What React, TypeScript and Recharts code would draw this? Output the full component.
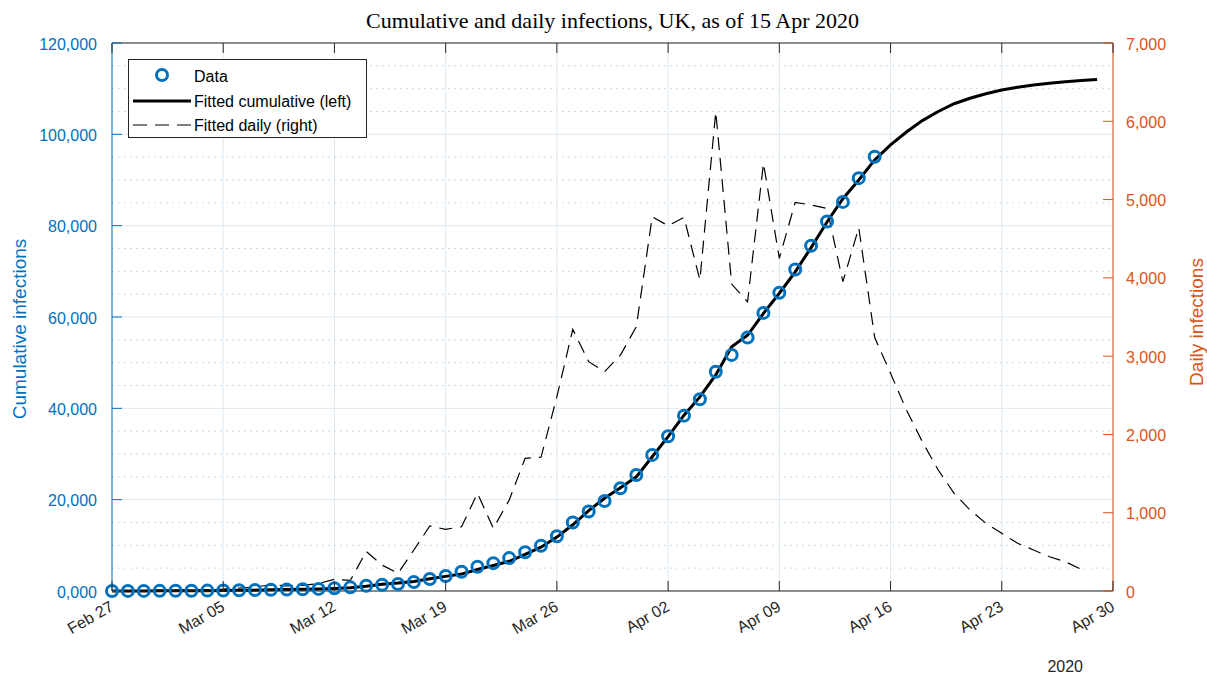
import { ComposedChart, Line, XAxis, YAxis, CartesianGrid, Legend, Label } from 'recharts';

// days counted from Feb 27 2020
const tickDays = [0, 7, 14, 21, 28, 35, 42, 49, 56, 63];
const tickLabels = ['Feb 27', 'Mar 05', 'Mar 12', 'Mar 19', 'Mar 26', 'Apr 02', 'Apr 09', 'Apr 16', 'Apr 23', 'Apr 30'];

const leftTicks = [0, 20000, 40000, 60000, 80000, 100000, 120000];
const leftLabels = ['0,000', '20,000', '40,000', '60,000', '80,000', '100,000', '120,000'];
const leftMinor = [5000, 10000, 15000, 25000, 30000, 35000, 45000, 50000, 55000, 65000, 70000, 75000, 85000, 90000, 95000, 105000, 110000, 115000];

const rightTicks = [0, 1000, 2000, 3000, 4000, 5000, 6000, 7000];
const rightLabels = ['0', '1,000', '2,000', '3,000', '4,000', '5,000', '6,000', '7,000'];

// observed cumulative cases, Feb 27 .. Apr 15
const observed = [
  15, 20, 23, 36, 40, 51, 85, 115, 163, 206, 273, 321, 373, 456, 590, 798, 1140, 1372, 1543, 1950,
  2626, 3269, 4200, 5300, 6100, 7200, 8500, 9900, 12000, 15000, 17400, 19700, 22500, 25400, 29800,
  33900, 38400, 42000, 48000, 51700, 55500, 60900, 65300, 70400, 75600, 80900, 85200, 90400, 95100,
];

// fitted cumulative, Feb 27 .. Apr 29
const cumFit = [
  10, 15, 20, 30, 40, 50, 70, 100, 140, 190, 250, 310, 380, 460, 560, 730, 1050, 1500, 1750, 2100,
  2700, 3200, 3700, 4700, 5600, 6500, 8000, 9600, 11800, 14500, 17600, 20300, 22600, 25000, 29400,
  33800, 38500, 42500, 47300, 53500, 56000, 60800, 65200, 69900, 75200, 80800, 85900, 90000, 94400,
  97700, 100500, 103000, 105000, 106700, 107900, 108900, 109700, 110300, 110800, 111200, 111500,
  111800, 112000,
];

// fitted daily, Feb 27 .. Apr 28
const dailyFit = [
  0, 5, 5, 8, 10, 12, 18, 25, 38, 50, 80, 65, 72, 95, 150, 135, 506, 330, 226, 524,
  830, 788, 821, 1248, 800, 1162, 1695, 1708, 2482, 3342, 2929, 2801, 3014, 3376, 4781,
  4666, 4773, 3972, 6122, 3921, 3695, 5463, 4250, 4965, 4930, 4888, 3951, 4640, 3240,
  2780, 2312, 1907, 1546, 1248, 1035, 865, 737, 609, 524, 438, 374, 277,
];

const rows = cumFit.map((c, i) => ({
  day: i,
  cum: c,
  daily: dailyFit[i],
  data: observed[i],
}));

const BLUE = '#0072BD';
const ORANGE = '#D95319';
const DARK = '#262626';
const FONT = '"Liberation Sans", Arial, Helvetica, sans-serif';

const BottomTick = (props: any) => {
  const { x, y, payload } = props;
  const label = tickLabels[tickDays.indexOf(payload.value)];
  const tx = x - 3;
  const ty = y + 9;
  return (
    <g>
      <line x1={x} y1={y} x2={x} y2={y - 10} stroke={DARK} strokeWidth={1} />
      <text
        x={tx}
        y={ty}
        transform={`rotate(-30 ${tx} ${ty})`}
        textAnchor="end"
        dominantBaseline="hanging"
        fontSize={16}
        fontFamily={FONT}
        fill={DARK}
      >
        {label}
      </text>
    </g>
  );
};

const TopTick = (props: any) => {
  const { x, y } = props;
  return <line x1={x} y1={y} x2={x} y2={y + 10} stroke={DARK} strokeWidth={1} />;
};

const LeftTick = (props: any) => {
  const { x, y, payload } = props;
  return (
    <g>
      <line x1={x} y1={y} x2={x + 10} y2={y} stroke={BLUE} strokeWidth={1} />
      <text x={x - 15} y={y + 1} textAnchor="end" dominantBaseline="central" fontSize={16} fontFamily={FONT} fill={BLUE}>
        {leftLabels[leftTicks.indexOf(payload.value)]}
      </text>
    </g>
  );
};

const RightTick = (props: any) => {
  const { x, y, payload } = props;
  return (
    <g>
      <line x1={x} y1={y} x2={x - 10} y2={y} stroke={ORANGE} strokeWidth={1} />
      <text x={x + 13} y={y + 1} textAnchor="start" dominantBaseline="central" fontSize={16} fontFamily={FONT} fill={ORANGE}>
        {rightLabels[rightTicks.indexOf(payload.value)]}
      </text>
    </g>
  );
};

const LegendBox = () => (
  <svg width={240} height={80} style={{ display: 'block' }}>
    <rect x={0.5} y={0.5} width={238} height={78} fill="#ffffff" stroke={DARK} strokeWidth={1} />
    <circle cx={34} cy={16} r={5.5} fill="none" stroke={BLUE} strokeWidth={3} />
    <text x={66} y={17} dominantBaseline="central" fontSize={16} fontFamily={FONT} fill="#000">Data</text>
    <line x1={5} y1={42} x2={63} y2={42} stroke="#000" strokeWidth={3} />
    <text x={66} y={42} dominantBaseline="central" fontSize={16} fontFamily={FONT} fill="#000">Fitted cumulative (left)</text>
    <line x1={5} y1={66} x2={63} y2={66} stroke="#000" strokeWidth={1.2} strokeDasharray="14 8" />
    <text x={66} y={66} dominantBaseline="central" fontSize={16} fontFamily={FONT} fill="#000">Fitted daily (right)</text>
  </svg>
);

export default function App() {
  return (
    <div style={{ position: 'absolute', left: 0, top: 0, width: 1207, height: 675, background: '#fff' }}>
      <div
        style={{
          position: 'absolute',
          left: 112,
          top: 8,
          width: 1001,
          textAlign: 'center',
          fontFamily: '"Liberation Serif", "DejaVu Serif", serif',
          fontSize: 22,
          color: '#000',
        }}
      >
        Cumulative and daily infections, UK, as of 15 Apr 2020
      </div>
      <ComposedChart width={1207} height={675} data={rows} margin={{ top: 13, right: 0, bottom: 0, left: 0 }}>
        <CartesianGrid
          xAxisId="bottom"
          yAxisId="left"
          horizontalValues={leftMinor}
          vertical={false}
          stroke="#c4dcef"
          strokeDasharray="2 4"
        />
        <CartesianGrid
          xAxisId="bottom"
          yAxisId="left"
          horizontalValues={leftTicks}
          verticalValues={tickDays}
          stroke="#dde9f3"
        />
        <XAxis
          xAxisId="bottom"
          dataKey="day"
          type="number"
          domain={[0, 63]}
          ticks={tickDays}
          height={84}
          tickSize={0}
          tickMargin={0}
          tickLine={false}
          axisLine={{ stroke: DARK }}
          tick={<BottomTick />}
          interval={0}
        >
          <Label
            content={(p: any) => {
              const vb = p.viewBox;
              return (
                <text x={vb.x + vb.width - 30} y={vb.y + 75} textAnchor="end" dominantBaseline="central" fontSize={16} fontFamily={FONT} fill={DARK}>
                  2020
                </text>
              );
            }}
          />
        </XAxis>
        <XAxis
          xAxisId="top"
          orientation="top"
          dataKey="day"
          type="number"
          domain={[0, 63]}
          ticks={tickDays}
          height={30}
          tickSize={0}
          tickMargin={0}
          tickLine={false}
          axisLine={{ stroke: DARK }}
          tick={<TopTick />}
          interval={0}
        />
        <YAxis
          yAxisId="left"
          domain={[0, 120000]}
          ticks={leftTicks}
          width={112}
          tickSize={0}
          tickMargin={0}
          tickLine={false}
          axisLine={{ stroke: BLUE }}
          tick={<LeftTick />}
          interval={0}
        >
          <Label
            content={(p: any) => {
              const vb = p.viewBox;
              const cx = vb.x + 19;
              const cy = vb.y + vb.height / 2 + 12;
              return (
                <text x={cx} y={cy} transform={`rotate(-90 ${cx} ${cy})`} textAnchor="middle" dominantBaseline="central" fontSize={19} fontFamily={FONT} fill={BLUE}>
                  Cumulative infections
                </text>
              );
            }}
          />
        </YAxis>
        <YAxis
          yAxisId="right"
          orientation="right"
          domain={[0, 7000]}
          ticks={rightTicks}
          width={94}
          tickSize={0}
          tickMargin={0}
          tickLine={false}
          axisLine={{ stroke: ORANGE }}
          tick={<RightTick />}
          interval={0}
        >
          <Label
            content={(p: any) => {
              const vb = p.viewBox;
              const cx = vb.x + 83;
              const cy = vb.y + vb.height / 2 + 5;
              return (
                <text x={cx} y={cy} transform={`rotate(-90 ${cx} ${cy})`} textAnchor="middle" dominantBaseline="central" fontSize={19} fontFamily={FONT} fill={ORANGE}>
                  Daily infections
                </text>
              );
            }}
          />
        </YAxis>
        <Legend
          layout="vertical"
          align="center"
          verticalAlign="middle"
          wrapperStyle={{ left: 128, top: 59, width: 240, height: 80 }}
          content={() => <LegendBox />}
        />
        <Line
          xAxisId="bottom"
          yAxisId="left"
          dataKey="data"
          name="Data"
          stroke="none"
          dot={{ r: 5.5, fill: 'none', stroke: BLUE, strokeWidth: 3 }}
          activeDot={false}
          isAnimationActive={false}
        />
        <Line
          xAxisId="bottom"
          yAxisId="left"
          dataKey="cum"
          name="Fitted cumulative (left)"
          type="linear"
          stroke="#000"
          strokeWidth={3}
          dot={false}
          activeDot={false}
          isAnimationActive={false}
        />
        <Line
          xAxisId="bottom"
          yAxisId="right"
          dataKey="daily"
          name="Fitted daily (right)"
          type="linear"
          stroke="#000"
          strokeWidth={1.2}
          strokeDasharray="13 8"
          dot={false}
          activeDot={false}
          isAnimationActive={false}
        />
      </ComposedChart>
    </div>
  );
}
